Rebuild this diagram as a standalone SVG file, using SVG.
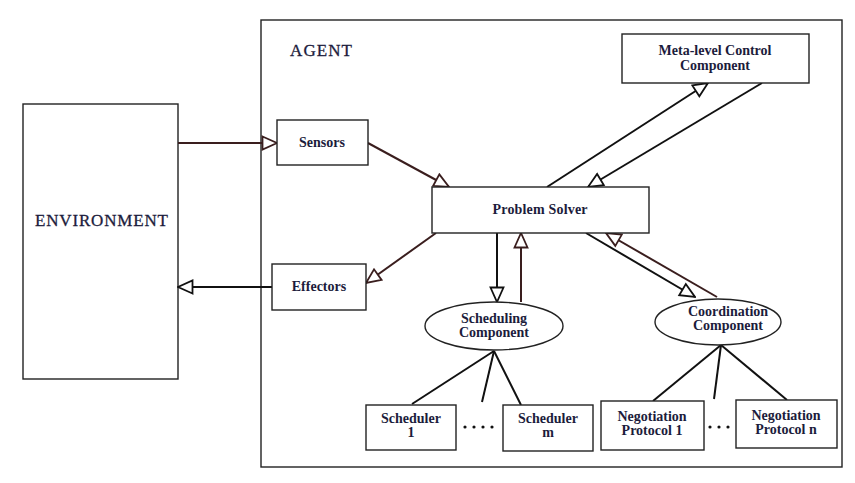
<svg xmlns="http://www.w3.org/2000/svg" width="855" height="483" viewBox="0 0 855 483">
<defs>
<marker id="hb" markerWidth="17" markerHeight="16" refX="16" refY="8" orient="auto" markerUnits="userSpaceOnUse">
<path d="M1.5,1.5 L16,8 L1.5,14.5 Z" fill="#fff" stroke="#3a1e1e" stroke-width="1.8"/>
</marker>
<marker id="hk" markerWidth="17" markerHeight="16" refX="16" refY="8" orient="auto" markerUnits="userSpaceOnUse">
<path d="M1.5,1.5 L16,8 L1.5,14.5 Z" fill="#fff" stroke="#111" stroke-width="1.8"/>
</marker>
</defs>
<style>
.box{fill:#fff;stroke:#222;stroke-width:1.4}
.t{font-family:"Liberation Serif",serif;font-weight:bold;font-size:14px;fill:#1c1c3c;text-anchor:middle}
.big{font-family:"Liberation Serif",serif;font-size:17px;fill:#1c1c3c;stroke:#1c1c3c;stroke-width:0.3}
.lb{stroke:#3a1e1e;stroke-width:2;fill:none}
.lk{stroke:#111;stroke-width:2;fill:none}
.dots{stroke:#111;stroke-width:3.2;stroke-dasharray:0 9;stroke-linecap:round;fill:none}
</style>
<rect width="855" height="483" fill="#fff"/>
<g id="agent">
<rect x="261" y="20" width="581" height="447" class="box"/>
<text x="290" y="56" class="big" textLength="62">AGENT</text>
</g>
<g id="environment">
<rect x="23" y="104" width="155" height="275" class="box"/>
<text x="35" y="226" class="big" textLength="133">ENVIRONMENT</text>
</g>
<g id="connectors">
<line x1="178" y1="143" x2="277" y2="143" class="lb" marker-end="url(#hb)"/>
<line x1="272" y1="287" x2="178" y2="287" class="lk" marker-end="url(#hk)"/>
<line x1="368" y1="143" x2="449" y2="187" class="lb" marker-end="url(#hb)"/>
<line x1="436" y1="233" x2="366" y2="283" class="lb" marker-end="url(#hb)"/>
<line x1="547" y1="187" x2="708" y2="83" class="lk" marker-end="url(#hk)"/>
<line x1="762" y1="83" x2="588" y2="187" class="lk" marker-end="url(#hk)"/>
<line x1="497" y1="233" x2="497" y2="302" class="lk" marker-end="url(#hk)"/>
<line x1="521" y1="302" x2="521" y2="233" class="lb" marker-end="url(#hb)"/>
<line x1="586" y1="233" x2="695" y2="297" class="lk" marker-end="url(#hk)"/>
<line x1="717" y1="297" x2="606" y2="233" class="lb" marker-end="url(#hb)"/>
<line x1="494" y1="351" x2="412" y2="404" class="lk"/>
<line x1="494" y1="351" x2="482" y2="402" class="lk"/>
<line x1="494" y1="351" x2="521" y2="405" class="lk"/>
<line x1="721" y1="345" x2="653" y2="401" class="lk"/>
<line x1="721" y1="345" x2="714" y2="399" class="lk"/>
<line x1="721" y1="345" x2="787" y2="400" class="lk"/>
<line x1="465" y1="427" x2="493" y2="427" class="dots"/>
<line x1="710" y1="427" x2="737" y2="427" class="dots"/>
</g>
<g id="sensors">
<rect x="277" y="120" width="91" height="45" class="box"/>
<text x="322" y="147" class="t">Sensors</text>
</g>
<g id="effectors">
<rect x="272" y="264" width="94" height="46" class="box"/>
<text x="319" y="291" class="t">Effectors</text>
</g>
<g id="problem-solver">
<rect x="432" y="187" width="217" height="46" class="box"/>
<text x="540" y="214" class="t" textLength="95">Problem Solver</text>
</g>
<g id="meta-level">
<rect x="622" y="34" width="187" height="49" class="box"/>
<text x="715" y="55" class="t">Meta-level Control</text>
<text x="715" y="70" class="t">Component</text>
</g>
<g id="scheduling">
<ellipse cx="494" cy="326" rx="69" ry="24" class="box"/>
<text x="494" y="323" class="t">Scheduling</text>
<text x="494" y="337" class="t">Component</text>
</g>
<g id="coordination">
<ellipse cx="718" cy="322" rx="63" ry="23" class="box"/>
<text x="728" y="316" class="t">Coordination</text>
<text x="728" y="330" class="t">Component</text>
</g>
<g id="scheduler-1">
<rect x="366" y="405" width="90" height="45" class="box"/>
<text x="411" y="423" class="t">Scheduler</text>
<text x="411" y="437" class="t">1</text>
</g>
<g id="scheduler-m">
<rect x="503" y="405" width="90" height="46" class="box"/>
<text x="548" y="423" class="t">Scheduler</text>
<text x="548" y="437" class="t">m</text>
</g>
<g id="negotiation-1">
<rect x="601" y="401" width="103" height="49" class="box"/>
<text x="652" y="421" class="t">Negotiation</text>
<text x="652" y="435" class="t">Protocol 1</text>
</g>
<g id="negotiation-n">
<rect x="736" y="400" width="101" height="48" class="box"/>
<text x="786" y="420" class="t">Negotiation</text>
<text x="786" y="434" class="t">Protocol n</text>
</g>
</svg>
